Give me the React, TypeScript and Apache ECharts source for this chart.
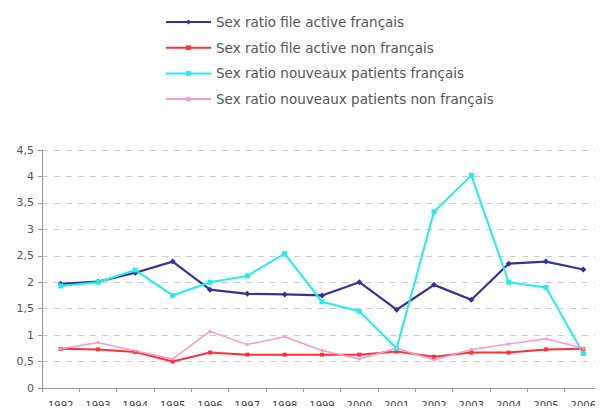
import React, { useEffect, useRef } from "react";
import * as echarts from "echarts";

const years = ["1992","1993","1994","1995","1996","1997","1998","1999","2000","2001","2002","2003","2004","2005","2006"];
const fileActiveFr = [1.97, 2.01, 2.18, 2.39, 1.86, 1.78, 1.77, 1.75, 2.0, 1.48, 1.95, 1.67, 2.35, 2.39, 2.24];
const fileActiveNonFr = [0.74, 0.73, 0.68, 0.5, 0.67, 0.63, 0.63, 0.63, 0.63, 0.69, 0.59, 0.67, 0.67, 0.73, 0.74];
const nouveauxFr = [1.93, 2.0, 2.23, 1.75, 2.0, 2.12, 2.54, 1.63, 1.45, 0.75, 3.33, 4.02, 2.0, 1.9, 0.65];
const nouveauxNonFr = [0.74, 0.86, 0.7, 0.55, 1.07, 0.82, 0.97, 0.71, 0.55, 0.75, 0.53, 0.73, 0.83, 0.93, 0.75];
const yTicks = [0, 0.5, 1, 1.5, 2, 2.5, 3, 3.5, 4, 4.5];

const names = [
  "Sex ratio file active français",
  "Sex ratio file active non français",
  "Sex ratio nouveaux patients français",
  "Sex ratio nouveaux patients non français",
];

export default function App() {
  const ref = useRef<HTMLDivElement>(null);
  useEffect(() => {
    if (!ref.current) return;
    const chart = echarts.init(ref.current, null, { renderer: "svg" });
    const mk = (name: string, data: number[], color: string, symbol: string, size: number, width: number) => ({
      name,
      type: "line",
      data,
      symbol,
      symbolSize: size,
      showSymbol: true,
      lineStyle: { color, width },
      itemStyle: { color },
    });
    chart.setOption({
      animation: false,
      textStyle: { fontFamily: "DejaVu Sans, sans-serif" },
      legend: {
        orient: "vertical",
        left: 160,
        top: 10,
        itemWidth: 45,
        itemHeight: 6,
        itemGap: 11.7,
        textStyle: { fontSize: 13.5, color: "#555", fontFamily: "DejaVu Sans, sans-serif" },
        data: names,
      },
      grid: { left: 42, right: 1, top: 150, bottom: 26, containLabel: false },
      xAxis: {
        type: "category",
        data: years,
        boundaryGap: true,
        axisLine: { lineStyle: { color: "#999", width: 1 } },
        axisTick: { show: true, lineStyle: { color: "#999" }, length: 4 },
        axisLabel: { fontSize: 10, color: "#444", margin: 12, interval: 0, fontFamily: "DejaVu Sans, sans-serif" },
        splitLine: { show: false },
      },
      yAxis: {
        type: "value",
        min: 0,
        max: 4.5,
        interval: 0.5,
        axisLine: { show: true, lineStyle: { color: "#999" } },
        axisTick: { show: true, lineStyle: { color: "#999" }, length: 4 },
        axisLabel: {
          fontSize: 11,
          color: "#555",
          margin: 8,
          fontFamily: "DejaVu Sans, sans-serif",
          formatter: (v: number) => (yTicks.includes(v) ? String(v).replace(".", ",") : ""),
        },
        splitLine: { show: true, lineStyle: { color: "#ccc", type: [6, 6] } },
      },
      series: [
        mk(names[0], fileActiveFr, "#333399", "diamond", 6, 2.2),
        mk(names[1], fileActiveNonFr, "#ff3333", "rect", 4, 2),
        mk(names[2], nouveauxFr, "#22eeee", "rect", 5, 2),
        mk(names[3], nouveauxNonFr, "#ff99cc", "circle", 3, 1.5),
      ],
    });
    return () => chart.dispose();
  }, []);
  return <div ref={ref} style={{ width: 603, height: 414, margin: -8 }} />;
}
